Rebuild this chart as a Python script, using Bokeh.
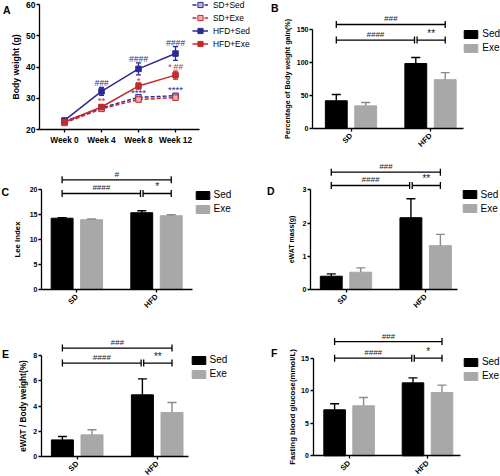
import math
from bokeh.plotting import figure
from bokeh.models import Range1d, FixedTicker, Legend, LegendItem
from bokeh.layouts import row, column
from bokeh.embed import file_html
from bokeh.resources import INLINE
from bokeh.core.properties import value

FONT = "Liberation Sans"

# ---------------- data ----------------
weeks = ["Week 0", "Week 4", "Week 8", "Week 12"]
week_idx = [0, 1, 2, 3]
sd_sed = [22.6, 26.9, 30.3, 30.8]
sd_sed_err = [0.4, 0.5, 0.6, 0.6]
sd_exe = [22.1, 26.6, 29.6, 30.2]
sd_exe_err = [0.4, 0.5, 0.7, 0.6]
hfd_sed = [22.9, 32.2, 39.4, 44.3]
hfd_sed_err = [0.5, 1.3, 1.9, 2.2]
hfd_exe = [22.4, 27.2, 33.9, 37.4]
hfd_exe_err = [0.4, 0.7, 1.0, 1.3]

sigA_x = [1, 2, 3, 1, 2, 3, 2, 3]
sigA_y = [34.8, 42.6, 47.6, 29.2, 35.6, 39.9, 31.7, 32.7]
sigA_text = ["###", "####", "####", "**", "*", "* ##", "****", "****"]
sigA_col = ["blue", "blue", "blue", "red", "red", "red", "blue", "blue"]

groups = ["SD", "HFD"]
B_sed, B_sed_err = [42.0, 98.5], [9.5, 9.0]
B_exe, B_exe_err = [34.3, 74.0], [5.0, 10.7]
B_ann_y, B_ann_text = [157.6, 134.0], ["###", "####", "**"]

C_sed, C_sed_err = [14.3, 15.4], [0.1, 0.4]
C_exe, C_exe_err = [14.0, 14.8], [0.15, 0.2]
C_ann_y, C_ann_text = [22.0, 19.26], ["#", "####", "*"]

D_sed, D_sed_err = [0.40, 2.16], [0.07, 0.57]
D_exe, D_exe_err = [0.52, 1.32], [0.13, 0.34]
D_ann_y, D_ann_text = [3.53, 3.13], ["###", "####", "**"]

E_sed, E_sed_err = [1.32, 4.90], [0.27, 1.27]
E_exe, E_exe_err = [1.72, 3.50], [0.40, 0.79]
E_ann_y, E_ann_text = [8.61, 7.42], ["###", "####", "**"]

F_sed, F_sed_err = [7.07, 11.21], [0.92, 0.77]
F_exe, F_exe_err = [7.68, 9.73], [1.28, 1.13]
F_ann_y, F_ann_text = [17.56, 15.0], ["###", "####", "*"]

A_yticks = [20, 30, 40, 50, 60]
B_yticks = [0, 50, 100, 150]
C_yticks = [0, 5, 10, 15, 20]
D_yticks = [0, 1, 2, 3]
E_yticks = [0, 2, 4, 6, 8]
F_yticks = [0, 5, 10, 15]

# ---------------- styles ----------------
BLUE, BLUE_L = "#2a2a96", "#b4b4dc"
RED, RED_L = "#c22a2e", "#eab0b0"
COLS = {"blue": BLUE, "red": RED}
GRAY, GRAYD = "#a8a8a8", "#8a8a8a"
D_OFF, BAR_W, GAP = 0.185, 0.275, 0.016


def make_panel(ox, oy, W, H, xcal, ycal):
    (ax1, vx1), (ax2, vx2) = xcal
    (ay1, vy1), (ay2, vy2) = ycal
    sx = (ax2 - ax1) / (vx2 - vx1)
    sy = (ay1 - ay2) / (vy2 - vy1)

    def xd(rx):
        return vx1 + (rx - ax1) / sx

    def yd(ry):
        return vy1 + (ay1 - ry) / sy

    p = figure(width=W, height=H, x_range=Range1d(xd(ox), xd(ox + W)),
               y_range=Range1d(yd(oy + H), yd(oy)), output_backend="svg",
               toolbar_location=None, min_border=0, outline_line_color=None,
               background_fill_color="white", border_fill_color="white")
    p.grid.visible = False
    return p, xd, yd


def style_axes(p, xd, yaxis_ref, xend_ref, yticks, ylabel, ylab_size, ytick_size,
               ytick_standoff, ylab_standoff, xticks, xlabels, xtick_size, xorient,
               xtick_standoff):
    xa, ya = p.xaxis[0], p.yaxis[0]
    xa.fixed_location = yticks[0]
    ya.fixed_location = xd(yaxis_ref)
    xa.bounds = (xd(yaxis_ref), xd(xend_ref))
    ya.bounds = (yticks[0], yticks[-1])
    ya.ticker = FixedTicker(ticks=yticks)
    xa.ticker = FixedTicker(ticks=xticks)
    xa.major_label_overrides = {t: l for t, l in zip(xticks, xlabels)}
    for ax in (xa, ya):
        ax.axis_line_width = 1.3
        ax.axis_line_color = "black"
        ax.major_tick_line_width = 1.3
        ax.major_tick_line_color = "black"
        ax.major_tick_out = 3
        ax.major_tick_in = 0
        ax.minor_tick_line_color = None
        ax.major_label_text_font = FONT
        ax.major_label_text_font_style = "bold"
        ax.major_label_text_color = "black"
    ya.major_label_text_font_size = ytick_size
    ya.major_label_standoff = ytick_standoff
    ya.axis_label = ylabel
    ya.axis_label_text_font = FONT
    ya.axis_label_text_font_style = "bold"
    ya.axis_label_text_font_size = ylab_size
    ya.axis_label_text_color = "black"
    ya.axis_label_standoff = ylab_standoff
    xa.major_label_text_font_size = xtick_size
    xa.major_label_standoff = xtick_standoff
    if xorient:
        xa.major_label_orientation = xorient


def letter(p, xd, yd, txt, rx, ry):
    p.text(x=[xd(rx)], y=[yd(ry)], text=[txt], text_font=value(FONT),
           text_font_style="bold", text_font_size="10.5px", text_baseline="top",
           text_align="left", text_color="black")


# ---------------- panel A ----------------
pA, xdA, ydA = make_panel(0, 0, 250, 160, ((64, 0), (175, 3)), ((129, 20), (4, 60)))
series = [("SD+Sed", sd_sed, sd_sed_err, BLUE, BLUE_L, "4 2"),
          ("SD+Exe", sd_exe, sd_exe_err, RED, RED_L, "4 2"),
          ("HFD+Sed", hfd_sed, hfd_sed_err, BLUE, BLUE, "solid"),
          ("HFD+Exe", hfd_exe, hfd_exe_err, RED, RED, "solid")]
itemsA = []
for name, ys, es, col, fill, dash in series:
    lo = [y - e for y, e in zip(ys, es)]
    hi = [y + e for y, e in zip(ys, es)]
    pA.segment(x0=week_idx, y0=lo, x1=week_idx, y1=hi, line_color=col, line_width=1.3)
    pA.scatter(x=week_idx + week_idx, y=lo + hi, marker="dash", size=5,
               line_color=col, line_width=1.3)
    ln = pA.line(week_idx, ys, line_color=col, line_width=1.5, line_dash=dash)
    mk = pA.scatter(week_idx, ys, marker="square", size=5.5, fill_color=fill,
                    line_color=col, line_width=1)
    itemsA.append(LegendItem(label=value(name), renderers=[ln, mk]))

for sx_, sy_, st, sc in zip(sigA_x, sigA_y, sigA_text, sigA_col):
    hashy = "#" in st
    pA.text(x=[sx_], y=[sy_], text=[st], text_font=value(FONT),
            text_font_style="italic" if hashy else "normal",
            text_font_size="8.5px" if hashy else "9.5px",
            text_color=COLS[sc], text_align="center", text_baseline="middle")

style_axes(pA, xdA, 39, 199.3, A_yticks, "Body weight (g)", "8.7px", "8.5px", 1, 2,
           week_idx, weeks, "8.3px", None, 2)
rowA = 13
legA = Legend(items=itemsA, location=(192, 160 - (-2) - 4 * rowA),
              glyph_width=16, glyph_height=rowA, label_height=rowA, label_standoff=5,
              spacing=0, padding=0, margin=0, border_line_color=None,
              background_fill_alpha=0, label_text_font=FONT,
              label_text_font_size="8.4px", label_text_color="black")
pA.add_layout(legA)
letter(pA, xdA, ydA, "A", 2.5, 3.5)


# ---------------- bar panels ----------------
def bar_panel(ox, oy, H, xcal, ycal, yaxis_ref, xend_ref, yticks, ylabel, ylab_size,
              ytick_standoff, ylab_standoff, sed, sed_err, exe, exe_err, ann_y,
              ann_text, leg_ref, let, let_ref):
    p, xd, yd = make_panel(ox, oy, 250, H, xcal, ycal)
    g = list(range(len(groups)))
    xs = [i - D_OFF for i in g]
    xe = [i + D_OFF for i in g]
    rs = p.vbar(x=xs, top=sed, bottom=0, width=BAR_W, fill_color="black", line_color="black")
    rex = p.vbar(x=xe, top=exe, bottom=0, width=BAR_W, fill_color=GRAY, line_color=GRAY)
    for xx, tops, errs, col in ((xs, sed, sed_err, "black"), (xe, exe, exe_err, GRAYD)):
        hi = [t + e for t, e in zip(tops, errs)]
        p.segment(x0=xx, y0=tops, x1=xx, y1=hi, line_color=col, line_width=1.4)
        p.scatter(x=xx, y=hi, marker="dash", size=9, line_color=col, line_width=1.4)
    y_top, y_low = ann_y
    a0, a1, a2 = g[0] - D_OFF, g[1] - D_OFF, g[1] + D_OFF
    x0s = [a0, a0, a1 + GAP]
    x1s = [a2, a1 - GAP, a2]
    ys = [y_top, y_low, y_low]
    p.segment(x0=x0s, y0=ys, x1=x1s, y1=ys, line_color="black", line_width=1.3)
    p.scatter(x=x0s + x1s, y=ys + ys, marker="dash", angle=math.pi / 2, size=7,
              line_color="black", line_width=1.3)
    for cx, cy, t in zip([(a + b) / 2 for a, b in zip(x0s, x1s)], ys, ann_text):
        hashy = "#" in t
        p.text(x=[cx], y=[cy], text=[t], text_font=value(FONT),
               text_font_style="italic" if hashy else "normal",
               text_font_size="8px" if hashy else "10px", text_color="#1a1a1a",
               text_align="center", text_baseline="bottom", y_offset=-1)
    style_axes(p, xd, yaxis_ref, xend_ref, yticks, ylabel, ylab_size, "7px",
               ytick_standoff, ylab_standoff, g, groups, "7.5px", math.pi / 4, 3)
    lx, ly = leg_ref
    rh = 14
    leg = Legend(items=[LegendItem(label=value("Sed"), renderers=[rs]),
                        LegendItem(label=value("Exe"), renderers=[rex])],
                 location=(lx - ox, H - (ly - oy) - 2 * rh),
                 glyph_width=17, glyph_height=10, label_height=rh, label_standoff=3,
                 spacing=0, padding=0, margin=0, border_line_color=None,
                 background_fill_alpha=0, label_text_font=FONT,
                 label_text_font_size="10px", label_text_color="black")
    p.add_layout(leg)
    letter(p, xd, yd, let, *let_ref)
    return p


pB = bar_panel(250, 0, 160, ((350.5, 0), (430, 1)), ((128, 0), (29, 150)), 312, 463,
               B_yticks, "Percentage of Body weight gain(%)", "7.2px", 1, 2,
               B_sed, B_sed_err, B_exe, B_exe_err, B_ann_y, B_ann_text,
               (462.25, 26.5), "B", (270.5, 1.5))
pC = bar_panel(0, 160, 156, ((76.35, 0), (156, 1)), ((289, 0), (189.3, 20)), 41, 191.7,
               C_yticks, "Lee Index", "7.8px", 1, 5,
               C_sed, C_sed_err, C_exe, C_exe_err, C_ann_y, C_ann_text,
               (193.6, 187.9), "C", (1, 185.5))
pD = bar_panel(250, 160, 156, ((345.5, 0), (425.15, 1)), ((289, 0), (189.3, 3)), 310, 456.7,
               D_yticks, "eWAT mass(g)", "7px", 1, 5,
               D_sed, D_sed_err, D_exe, D_exe_err, D_ann_y, D_ann_text,
               (460.5, 187), "D", (266.5, 184))
pE = bar_panel(0, 316, 160, ((76.7, 0), (156.7, 1)), ((456, 0), (355.3, 8)), 40.7, 188.3,
               E_yticks, "eWAT / Body weight(%)", "8.3px", 1, 3,
               E_sed, E_sed_err, E_exe, E_exe_err, E_ann_y, E_ann_text,
               (189.6, 352.7), "E", (1.5, 347))
pF = bar_panel(250, 316, 160, ((348.6, 0), (427, 1)), ((455.3, 0), (357.7, 15)), 313.3, 460,
               F_yticks, "Fasting blood glucose(mmol/L)", "7.8px", 2, 1,
               F_sed, F_sed_err, F_exe, F_exe_err, F_ann_y, F_ann_text,
               (461.9, 354.8), "F", (270.5, 346.5))

layout = column(row(pA, pB), row(pC, pD), row(pE, pF))
open("out.html", "w").write(file_html(layout, INLINE))
